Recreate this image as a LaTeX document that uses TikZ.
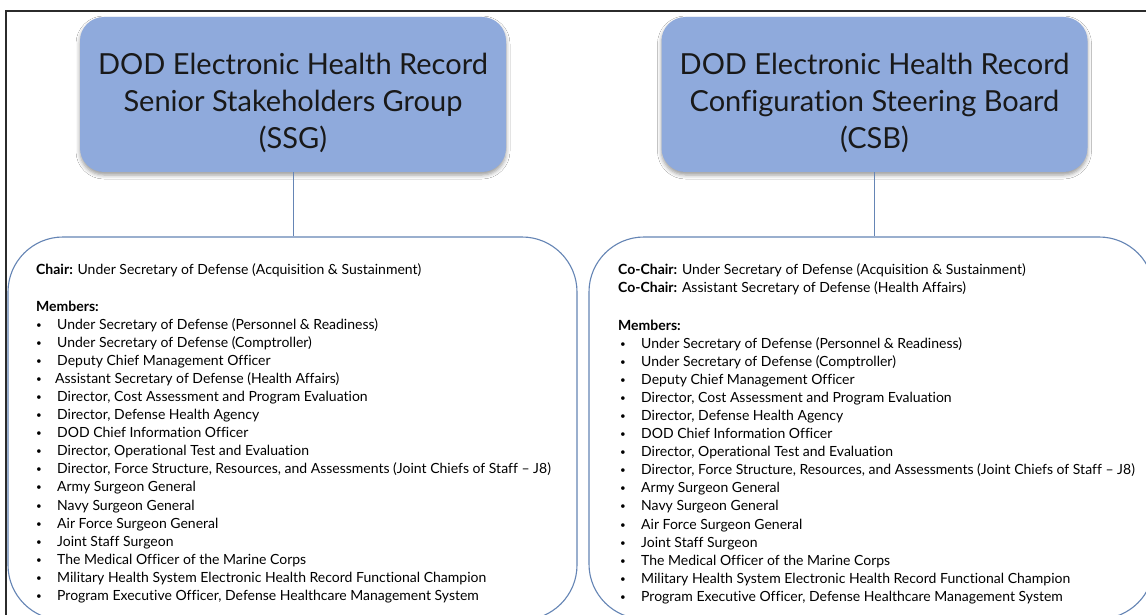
\documentclass[tikz,border=0pt]{standalone}
\usepackage{fontspec}
\setmainfont{Lato}[Ligatures={NoCommon,NoRare}]
\usetikzlibrary{shadows.blur}
\definecolor{hdrfill}{HTML}{8FAADC}
\definecolor{boxline}{HTML}{6585B5}
\definecolor{frameline}{HTML}{2B2B2B}
\tikzset{
  hdr/.style={fill=hdrfill, rounded corners=24pt, minimum width=426pt, minimum height=155pt, inner sep=0pt,
    blur shadow={shadow xshift=0pt, shadow yshift=-3pt, shadow blur radius=4pt, shadow opacity=40}},
  hdrtxt/.style={align=center, inner sep=0pt, text=black!90, font=\fontsize{29}{37}\selectfont},
  grp/.style={draw=boxline, line width=1.1pt, rounded corners=55pt, inner sep=0pt},
  conn/.style={draw=boxline, line width=1pt},
  txt/.style={anchor=base west, inner sep=0pt, text=black, font=\fontsize{14}{18}\selectfont},
}
\newcommand{\bul}[1]{\makebox[21pt][l]{\raisebox{1pt}{\scalebox{0.7}{\textbullet}}}#1}
\begin{document}
\begin{tikzpicture}[x=1pt,y=-1pt]
\useasboundingbox (0,0) rectangle (1146,615);
\clip (0,0) rectangle (1146,615);
\fill[white] (0,0) rectangle (1146,615);
\draw[frameline, line width=1.3pt] (6,11) rectangle (1170,640);

% header boxes
\node[hdr] (ssg) at (293,94.5) {};
\node[hdrtxt] (ssgt) at ([yshift=-8pt]ssg.center) {DOD Electronic Health Record\\Senior Stakeholders Group\\(SSG)};
\node[hdr] (csb) at (874.5,94.5) {};
\node[hdrtxt] (csbt) at ([yshift=-8pt]csb.center) {DOD Electronic Health Record\\Configuration Steering Board\\(CSB)};

% member boxes
\node[grp, minimum width=569pt, minimum height=383pt] (ssgm) at (292.5,428.5) {};
\node[grp, minimum width=565pt, minimum height=382pt] (csbm) at (871.5,428) {};

% connectors
\draw[conn] (ssg.south) -- (ssg.south |- ssgm.north);
\draw[conn] (csb.south) -- (csb.south |- csbm.north);

% left text
\node[txt] (lchair) at (36,274) {\textbf{Chair:} Under Secretary of Defense (Acquisition \& Sustainment)};
\node[txt] (lmem) at (36,311) {\textbf{Members:}};
\foreach \t [count=\i from 0] in {
  {Under Secretary of Defense (Personnel \& Readiness)},
  {Under Secretary of Defense (Comptroller)},
  {Deputy Chief Management Officer},
  {\kern-2pt Assistant Secretary of Defense (Health Affairs)},
  {Director, Cost Assessment and Program Evaluation},
  {Director, Defense Health Agency},
  {DOD Chief Information Officer},
  {Director, Operational Test and Evaluation},
  {Director, Force Structure, Resources, and Assessments (Joint Chiefs of Staff – J8)},
  {Army Surgeon General},
  {Navy Surgeon General},
  {Air Force Surgeon General},
  {Joint Staff Surgeon},
  {The Medical Officer of the Marine Corps},
  {Military Health System Electronic Health Record Functional Champion},
  {Program Executive Officer, Defense Healthcare Management System}}
  \node[txt] (l\i) at (36,{329+18.1*\i}) {\bul{\t}};

% right text
\node[txt] (rchair1) at (618,274) {\textbf{Co-Chair:} Under Secretary of Defense (Acquisition \& Sustainment)};
\node[txt] (rchair2) at (618,292) {\textbf{Co-Chair:} Assistant Secretary of Defense (Health Affairs)};
\node[txt] (rmem) at (618,330) {\textbf{Members:}};
\foreach \t [count=\i from 0] in {
  {Under Secretary of Defense (Personnel \& Readiness)},
  {Under Secretary of Defense (Comptroller)},
  {Deputy Chief Management Officer},
  {Director, Cost Assessment and Program Evaluation},
  {Director, Defense Health Agency},
  {DOD Chief Information Officer},
  {Director, Operational Test and Evaluation},
  {Director, Force Structure, Resources, and Assessments (Joint Chiefs of Staff – J8)},
  {Army Surgeon General},
  {Navy Surgeon General},
  {Air Force Surgeon General},
  {Joint Staff Surgeon},
  {The Medical Officer of the Marine Corps},
  {Military Health System Electronic Health Record Functional Champion},
  {Program Executive Officer, Defense Healthcare Management System}}
  \node[txt] (r\i) at (620,{348+18.1*\i}) {\bul{\t}};
\end{tikzpicture}
\end{document}
